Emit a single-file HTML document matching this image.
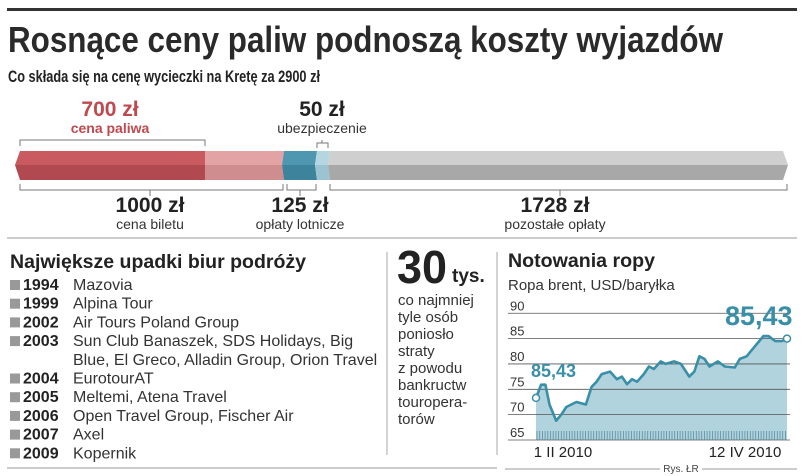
<!DOCTYPE html>
<html><head><meta charset="utf-8"><style>
html,body{margin:0;padding:0;background:#fff;}
svg{display:block;font-family:"Liberation Sans",sans-serif;}
</style></head><body>
<svg id="root" width="805" height="476" viewBox="0 0 805 476" xmlns="http://www.w3.org/2000/svg">
<rect x="7" y="8" width="790" height="3" fill="#333"/>
<text x="8" y="52" font-size="36" font-weight="bold" fill="#2a2a2a" textLength="715" lengthAdjust="spacingAndGlyphs">Rosnące ceny paliw podnoszą koszty wyjazdów</text>
<text x="8" y="82" font-size="17" font-weight="bold" fill="#222" textLength="312" lengthAdjust="spacingAndGlyphs">Co składa się na cenę wycieczki na Kretę za 2900 zł</text>

<g>
<text x="110" y="116" font-size="21" font-weight="bold" fill="#c0484f" text-anchor="middle">700 zł</text>
<text x="110" y="133" font-size="14" font-weight="bold" fill="#c0484f" text-anchor="middle">cena paliwa</text>
<path d="M20 146 V140 H205 V146" fill="none" stroke="#777"/>
<text x="322" y="116" font-size="21" font-weight="bold" fill="#222" text-anchor="middle">50 zł</text>
<text x="322" y="133" font-size="14" fill="#333" text-anchor="middle">ubezpieczenie</text>
<path d="M317 148 V143 H328 V148 M322 143 V140" fill="none" stroke="#777"/>
<polygon points="20,151 205,151 205,165 15,165" fill="#c95a5f"/><polygon points="15,165 205,165 205,180 20,180" fill="#b04a50"/>
<polygon points="205,151 284,151 282,165 205,165" fill="#e3a3a5"/><polygon points="205,165 282,165 284,180 205,180" fill="#cf8d90"/>
<polygon points="284,151 317,151 315,165 282,165" fill="#4f97b0"/><polygon points="282,165 315,165 317,180 284,180" fill="#3d839c"/>
<polygon points="317,151 330,151 328,165 315,165" fill="#b3d6e0"/><polygon points="315,165 328,165 330,180 317,180" fill="#9cc4d0"/>
<polygon points="330,151 783,151 788,165 328,165" fill="#cfcfcf"/><polygon points="328,165 788,165 783,180 330,180" fill="#a8a8a8"/>
<path d="M20 184 V190 H283 V184 M150 190 V196" fill="none" stroke="#777"/>
<path d="M287 184 V190 H316 V184 M300 190 V196" fill="none" stroke="#777"/>
<path d="M330 184 V190 H787 V184 M560 190 V196" fill="none" stroke="#777"/>
<text x="150" y="212" font-size="21" font-weight="bold" fill="#222" text-anchor="middle">1000 zł</text>
<text x="150" y="229" font-size="14" fill="#333" text-anchor="middle">cena biletu</text>
<text x="300" y="212" font-size="21" font-weight="bold" fill="#222" text-anchor="middle">125 zł</text>
<text x="300" y="229" font-size="14" fill="#333" text-anchor="middle">opłaty lotnicze</text>
<text x="555" y="212" font-size="21" font-weight="bold" fill="#222" text-anchor="middle">1728 zł</text>
<text x="555" y="229" font-size="14" fill="#333" text-anchor="middle">pozostałe opłaty</text>
</g>
<rect x="7" y="237" width="790" height="2" fill="#ccc"/>

<g>
<text x="10" y="268" font-size="19" font-weight="bold" fill="#222" textLength="296" lengthAdjust="spacingAndGlyphs">Największe upadki biur podróży</text>
<g id="list"></g>
</g>
<line x1="387" y1="252" x2="387" y2="455" stroke="#aaa"/>
<line x1="497" y1="252" x2="497" y2="455" stroke="#aaa"/>
<g>
<text x="397" y="283" font-size="46" font-weight="bold" fill="#222" textLength="50" lengthAdjust="spacingAndGlyphs">30</text>
<text x="452" y="282" font-size="19" font-weight="bold" fill="#222">tys.</text>
<g id="stat" font-size="15" fill="#333"></g>
</g>
<rect x="7" y="467" width="490" height="2" fill="#ccc"/>

<g>
<text x="508" y="267" font-size="19" font-weight="bold" fill="#222" textLength="147" lengthAdjust="spacingAndGlyphs">Notowania ropy</text>
<text x="508" y="290" font-size="15" fill="#333">Ropa brent, USD/baryłka</text>
<g id="chart"></g>
<text x="563" y="457" font-size="15" fill="#222" text-anchor="middle">1 II 2010</text>
<text x="745" y="457" font-size="15" fill="#222" text-anchor="middle">12 IV 2010</text>
<line x1="505" y1="469" x2="660" y2="469" stroke="#ccc" stroke-width="2"/>
<line x1="702" y1="469" x2="797" y2="469" stroke="#ccc" stroke-width="2"/>
<text x="681" y="472" font-size="10" fill="#444" text-anchor="middle">Rys. ŁR</text>
</g>
</svg>
<script>
const NS='http://www.w3.org/2000/svg';
const years=['1994','1999','2002','2003','','2004','2005','2006','2007','2009'];
const names=['Mazovia','Alpina Tour','Air Tours Poland Group','Sun Club Banaszek, SDS Holidays, Big','Blue, El Greco, Alladin Group, Orion Travel','EurotourAT','Meltemi, Atena Travel','Open Travel Group, Fischer Air','Axel','Kopernik'];
const statLines=['co najmniej','tyle osób','poniosło','straty','z powodu','bankructw','touropera-','torów'];
const days=[0,15,28,40,60,75,90,120,148,165,180,195,220,240,255,270,285,300,320,335,350,370,385,410,430,455,470,485,500,515,540,560,590,605,625,650,675,690,710,730,745];
const prices=[73.3,75.9,75.9,72,68.8,70,71.5,72.5,72,75.5,76.5,78,78.5,77,77.5,76,77,76.5,78,79.5,79,80.5,80,80.5,80,77.5,78.5,81.5,81,79.5,80.5,79.5,79.3,81,81.5,83.5,85.5,85.5,84.5,84.5,85];
const yTicks=[90,85,80,75,70,65];
const startLabel='85,43', endLabel='85,43';

function mk(tag,attrs,parent,txt){const e=document.createElementNS(NS,tag);for(const k in attrs)e.setAttribute(k,attrs[k]);if(txt!==undefined)e.textContent=txt;parent.appendChild(e);return e;}
const list=document.getElementById('list');
names.forEach((n,i)=>{
  const y=290+i*18.7;
  if(years[i]){
    const sq=mk('rect',{x:10,y:y-10,width:10,height:10,fill:'#999'},list);
    
    
    const yr=mk('text',{x:23,y:y,'font-size':16,'font-weight':'bold',fill:'#222'},list,years[i]);
    
    
  }
  const t=mk('text',{x:73,y:y,'font-size':16,fill:'#333'},list,n);
  
  
});
const st=document.getElementById('stat');
statLines.forEach((s,i)=>{const t=mk('text',{x:398,y:305+i*17},st,s);
  
  });

const ch=document.getElementById('chart');
const X0=536,X1=787,Y65=440,PX=5.07;
const xs=d=>X0+(d-days[0])/(days[days.length-1]-days[0])*(X1-X0);
const ys=v=>Y65-(v-65)*PX;
let d='M'+xs(days[0])+' '+ys(65);
days.forEach((dd,i)=>{d+=' L'+xs(dd).toFixed(1)+' '+ys(prices[i]).toFixed(1);});
d+=' L'+xs(days[days.length-1])+' '+ys(65)+' Z';
const area=mk('path',{d:d,fill:'#b0d3de'},ch);


yTicks.forEach(v=>{
  const g=mk('line',{x1:508,x2:790,y1:ys(v),y2:ys(v),stroke:'#555','stroke-width':0.8},ch);
  
  
  const t=mk('text',{x:510,y:ys(v)-3,'font-size':13,fill:'#333'},ch,String(v));
  
  
});
for(let x=X0+1;x<=X1;x+=2.7){mk('line',{x1:x.toFixed(1),x2:x.toFixed(1),y1:Y65-9,y2:Y65,stroke:'#5b8fa0','stroke-width':0.8},ch);}
let l='';days.forEach((dd,i)=>{l+=(i?' L':'M')+xs(dd).toFixed(1)+' '+ys(prices[i]).toFixed(1);});
const line=mk('path',{d:l,fill:'none',stroke:'#3a8fa8','stroke-width':2.6,'stroke-linejoin':'round'},ch);


const c1=mk('circle',{cx:xs(days[0]),cy:ys(prices[0]),r:3.5,fill:'#fff',stroke:'#3a8fa8','stroke-width':1.5},ch);


const n=days.length-1;
const c2=mk('circle',{cx:xs(days[n]),cy:ys(prices[n]),r:3.5,fill:'#fff',stroke:'#3a8fa8','stroke-width':1.5},ch);


const sl=mk('text',{x:531,y:377,'font-size':18,'font-weight':'bold',fill:'#3a8fa8'},ch,startLabel);


const el=mk('text',{x:725,y:325,'font-size':27,'font-weight':'bold',fill:'#3a8fa8'},ch,endLabel);


</script>
</body></html>
